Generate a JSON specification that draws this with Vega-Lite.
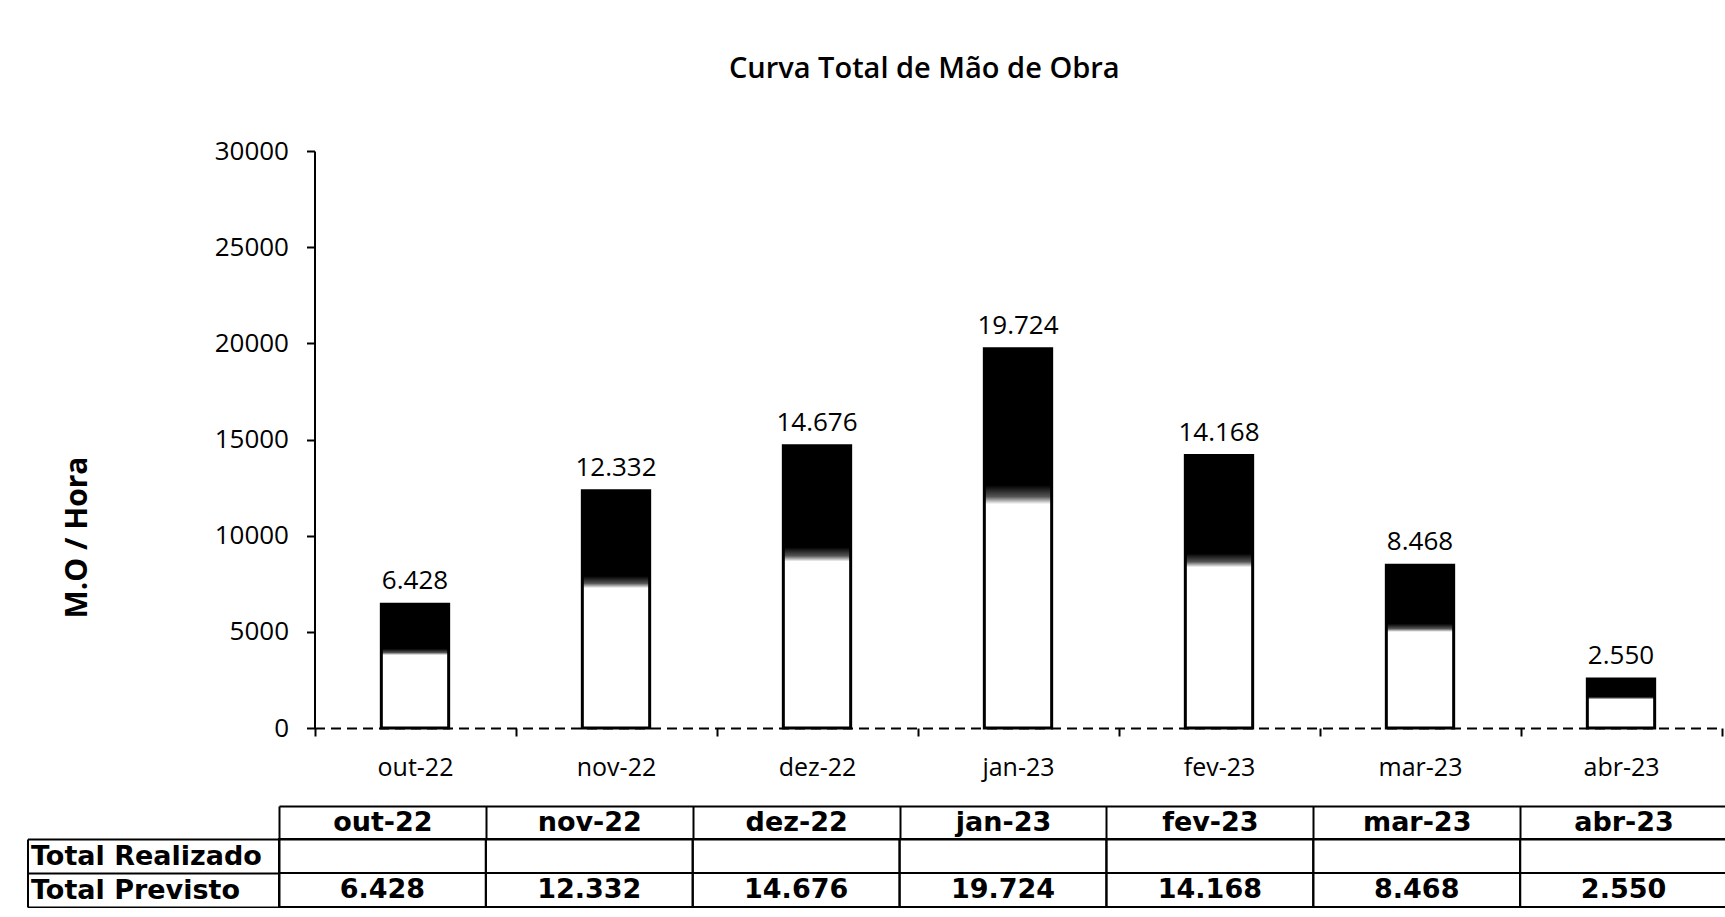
{
  "$schema": "https://vega.github.io/schema/vega-lite/v6.json",
  "background": "white",
  "padding": {"left": 26, "top": 54, "right": 0, "bottom": 0},
  "title": {
    "text": "Curva Total de Mão de Obra",
    "font": "Open Sans",
    "fontSize": 29,
    "fontWeight": 600,
    "color": "black",
    "anchor": "middle",
    "dx": 47,
    "offset": 54.4
  },
  "config": {
    "locale": {"number": {"decimal": ",", "thousands": ".", "grouping": [3], "currency": ["R$", ""]}},
    "view": {"stroke": null},
    "axis": {"grid": false}
  },
  "datasets": {
    "mo": [
      {"mes": "out-22", "previsto": 6428},
      {"mes": "nov-22", "previsto": 12332},
      {"mes": "dez-22", "previsto": 14676},
      {"mes": "jan-23", "previsto": 19724},
      {"mes": "fev-23", "previsto": 14168},
      {"mes": "mar-23", "previsto": 8468},
      {"mes": "abr-23", "previsto": 2550}
    ]
  },
  "spacing": 25,
  "vconcat": [
    {
      "width": 1442.5,
      "height": 577,
      "data": {"name": "mo"},
      "encoding": {
        "x": {
          "field": "mes",
          "type": "ordinal",
          "sort": null,
          "scale": {"range": [35.5, 1442.5], "paddingInner": 0, "paddingOuter": 0},
          "axis": {
            "title": null,
            "orient": "bottom",
            "tickBand": "extent",
            "tickSize": 8,
            "tickColor": "black",
            "tickWidth": 2,
            "domainColor": "black",
            "domainWidth": 2,
            "domainDash": [10, 6],
            "labelFont": "Open Sans",
            "labelFontSize": 25,
            "labelColor": "black",
            "labelPadding": 19,
            "labelAngle": 0
          }
        }
      },
      "layer": [
        {
          "mark": {
            "type": "bar",
            "width": {"band": 0.335},
            "fill": {
              "gradient": "linear",
              "x1": 0, "y1": 0, "x2": 0, "y2": 1,
              "stops": [
                {"offset": 0, "color": "black"},
                {"offset": 0.36, "color": "black"},
                {"offset": 0.39, "color": "#555555"},
                {"offset": 0.41, "color": "white"},
                {"offset": 1, "color": "white"}
              ]
            },
            "stroke": "black",
            "strokeWidth": 3
          },
          "encoding": {
            "y": {
              "field": "previsto",
              "type": "quantitative",
              "scale": {"domain": [0, 30000], "nice": false},
              "axis": {
                "title": "M.O / Hora",
                "values": [0, 5000, 10000, 15000, 20000, 25000, 30000],
                "format": "d",
                "offset": -35.5,
                "domainColor": "black",
                "domainWidth": 2,
                "tickColor": "black",
                "tickWidth": 2,
                "tickSize": 8,
                "labelFont": "Open Sans",
                "labelFontSize": 26,
                "labelColor": "black",
                "labelPadding": 18,
                "titleFont": "Open Sans",
                "titleFontSize": 30,
                "titleFontWeight": "bold",
                "titleColor": "black",
                "titleAngle": -90,
                "titleAlign": "center",
                "titleBaseline": "middle",
                "titleX": -237,
                "titleY": 386
              }
            }
          }
        },
        {
          "mark": {
            "type": "text",
            "font": "Open Sans",
            "fontSize": 26,
            "baseline": "alphabetic",
            "dy": -15,
            "color": "black"
          },
          "encoding": {
            "y": {"field": "previsto", "type": "quantitative"},
            "text": {"field": "previsto", "type": "quantitative", "format": ",d"}
          }
        }
      ]
    },
    {
      "width": 1448,
      "height": 68,
      "data": {"name": "mo"},
      "resolve": {"axis": {"x": "independent", "y": "independent"}},
      "layer": [
        {
          "mark": {"type": "rect", "fillOpacity": 0, "stroke": "black", "strokeWidth": 2},
          "encoding": {
            "x": {
              "field": "mes",
              "type": "ordinal",
              "sort": null,
              "scale": {"paddingInner": 0, "paddingOuter": 0},
              "axis": {
                "orient": "top",
                "title": null,
                "tickBand": "extent",
                "tickSize": 33,
                "tickColor": "black",
                "tickWidth": 2,
                "domainColor": "black",
                "domainWidth": 2,
                "labelPadding": -16.5,
                "labelBaseline": "middle",
                "labelAngle": 0,
                "labelFont": "DejaVu Sans",
                "labelFontWeight": "bold",
                "labelFontSize": 27,
                "labelColor": "black"
              }
            },
            "y": {
              "datum": "Total Realizado",
              "type": "ordinal",
              "scale": {"domain": ["Total Realizado", "Total Previsto"], "paddingInner": 0, "paddingOuter": 0},
              "axis": {
                "orient": "left",
                "title": null,
                "tickBand": "extent",
                "tickSize": 251.5,
                "tickColor": "black",
                "tickWidth": 2,
                "domainColor": "black",
                "domainWidth": 2,
                "labelAlign": "left",
                "labelBaseline": "middle",
                "labelPadding": -3,
                "labelLimit": 0,
                "labelFont": "DejaVu Sans",
                "labelFontWeight": "bold",
                "labelFontSize": 27,
                "labelColor": "black"
              }
            }
          }
        },
        {
          "mark": {"type": "rect", "fillOpacity": 0, "stroke": "black", "strokeWidth": 2},
          "encoding": {
            "x": {"field": "mes", "type": "ordinal", "sort": null, "axis": null},
            "y": {"datum": "Total Previsto", "type": "ordinal", "axis": null}
          }
        },
        {
          "mark": {
            "type": "text",
            "font": "DejaVu Sans",
            "fontWeight": "bold",
            "fontSize": 27,
            "baseline": "middle",
            "color": "black"
          },
          "encoding": {
            "x": {
              "field": "mes",
              "type": "ordinal",
              "sort": null,
              "axis": {"orient": "top", "offset": 33, "title": null, "labels": false, "ticks": false, "domain": true, "domainColor": "black", "domainWidth": 2}
            },
            "y": {
              "datum": "Total Previsto",
              "type": "ordinal",
              "axis": {"orient": "left", "offset": 251.5, "title": null, "labels": false, "ticks": false, "domain": true, "domainColor": "black", "domainWidth": 2}
            },
            "text": {"field": "previsto", "type": "quantitative", "format": ",d"}
          }
        }
      ]
    }
  ]
}
